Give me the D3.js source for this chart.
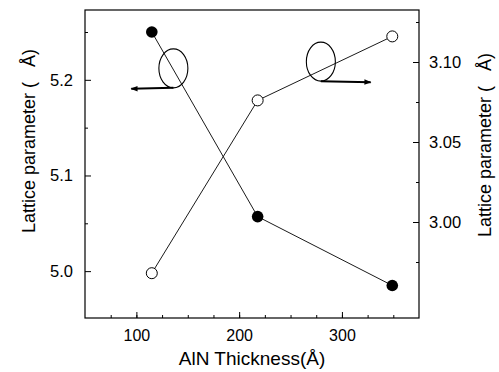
<!DOCTYPE html>
<html>
<head>
<meta charset="utf-8">
<script src="https://cdn.jsdelivr.net/npm/d3@7"></script>
<style>
  body { margin: 0; background: #fff; }
  text { font-family: "Liberation Sans", Arial, sans-serif; fill: #000; }
  .title { white-space: pre; }
</style>
</head>
<body>
<div id="chart"></div>
<script>
// data
const thickness = [115, 218, 349];
const latticeA = [5.250, 5.057, 4.985];   // filled, left axis
const latticeC = [2.968, 3.076, 3.116];   // open, right axis
const xTicks = [100, 200, 300];
const leftTicks = [5.0, 5.1, 5.2];
const rightTicks = [3.00, 3.05, 3.10];

const W = 499, H = 372;
const margin = { top: 10, right: 80, bottom: 54, left: 85 };

const svg = d3.select('#chart').append('svg')
  .attr('width', W).attr('height', H);

const x = d3.scaleLinear().domain([50, 375]).range([margin.left, W - margin.right]);
const yL = d3.scaleLinear().domain([4.951, 5.273]).range([H - margin.bottom, margin.top]);
const yR = d3.scaleLinear().domain([2.94, 3.1325]).range([H - margin.bottom, margin.top]);

// frame
svg.append('rect')
  .attr('x', margin.left).attr('y', margin.top)
  .attr('width', W - margin.right - margin.left)
  .attr('height', H - margin.bottom - margin.top)
  .attr('fill', 'none').attr('stroke', '#000').attr('stroke-width', 1.2);

// bottom axis
const bottom = svg.append('g')
  .attr('transform', 'translate(0,' + (H - margin.bottom) + ')');
bottom.call(d3.axisBottom(x).tickValues(d3.range(75, 375, 25)).tickSize(-3).tickFormat(''))
  .call(g => g.select('.domain').remove());
bottom.append('g')
  .call(d3.axisBottom(x).tickValues(xTicks).tickSize(-6).tickPadding(12).tickFormat(d3.format('d')))
  .call(g => g.select('.domain').remove())
  .selectAll('text').style('font-size', '16px');

// left axis
const left = svg.append('g').attr('transform', 'translate(' + margin.left + ',0)');
left.call(d3.axisLeft(yL).tickValues([5.05, 5.15, 5.25]).tickSize(-3).tickFormat(''))
  .call(g => g.select('.domain').remove());
left.append('g')
  .call(d3.axisLeft(yL).tickValues(leftTicks).tickSize(-6).tickPadding(12).tickFormat(d3.format('.1f')))
  .call(g => g.select('.domain').remove())
  .selectAll('text').style('font-size', '16.5px');

// right axis
const right = svg.append('g').attr('transform', 'translate(' + (W - margin.right) + ',0)');
right.call(d3.axisRight(yR).tickValues([2.975, 3.025, 3.075, 3.125]).tickSize(-3).tickFormat(''))
  .call(g => g.select('.domain').remove());
right.append('g')
  .call(d3.axisRight(yR).tickValues(rightTicks).tickSize(-6).tickPadding(10).tickFormat(d3.format('.2f')))
  .call(g => g.select('.domain').remove())
  .selectAll('text').style('font-size', '16.5px');

svg.selectAll('.tick line').attr('stroke', '#000');

// axis titles
svg.append('text').attr('class', 'title')
  .attr('transform', 'translate(35,141) rotate(-90)')
  .attr('text-anchor', 'middle').style('font-size', '18px')
  .text('Lattice parameter (   Å)');
svg.append('text').attr('class', 'title')
  .attr('transform', 'translate(491,145) rotate(-90)')
  .attr('text-anchor', 'middle').style('font-size', '18px')
  .text('Lattice parameter (   Å)');
svg.append('text')
  .attr('x', 252).attr('y', 365)
  .attr('text-anchor', 'middle').style('font-size', '19px')
  .text('AlN Thickness(Å)');

// series
const lineA = d3.line().x((d, i) => x(thickness[i])).y(d => yL(d));
const lineC = d3.line().x((d, i) => x(thickness[i])).y(d => yR(d));

svg.append('path').attr('d', lineA(latticeA))
  .attr('fill', 'none').attr('stroke', '#000').attr('stroke-width', 0.9);
svg.append('path').attr('d', lineC(latticeC))
  .attr('fill', 'none').attr('stroke', '#000').attr('stroke-width', 0.9);

svg.selectAll('.ptA').data(latticeA).enter().append('circle')
  .attr('class', 'ptA')
  .attr('cx', (d, i) => x(thickness[i])).attr('cy', d => yL(d))
  .attr('r', 5.8).attr('fill', '#000');
svg.selectAll('.ptC').data(latticeC).enter().append('circle')
  .attr('class', 'ptC')
  .attr('cx', (d, i) => x(thickness[i])).attr('cy', d => yR(d))
  .attr('r', 5.5).attr('fill', '#fff').attr('stroke', '#000').attr('stroke-width', 1);

// ellipse + arrow annotations
svg.append('defs').append('marker')
  .attr('id', 'arr').attr('viewBox', '0 0 10 10')
  .attr('refX', 9).attr('refY', 5)
  .attr('markerWidth', 5).attr('markerHeight', 3.5).attr('orient', 'auto')
  .append('path').attr('d', 'M0,1 L10,5 L0,9 Z').attr('fill', '#000');

function note(cx, cy, x2) {
  svg.append('ellipse')
    .attr('cx', x(cx)).attr('cy', yL(cy)).attr('rx', 14.5).attr('ry', 19.5)
    .attr('fill', 'none').attr('stroke', '#000').attr('stroke-width', 1.1);
  svg.append('line')
    .attr('x1', x(cx)).attr('y1', yL(cy) + 19.5)
    .attr('x2', x(x2)).attr('y2', yL(cy) + 20.5)
    .attr('stroke', '#000').attr('stroke-width', 2)
    .attr('marker-end', 'url(#arr)');
}
note(136, 5.212, 95);
note(279.5, 5.219, 328);
</script>
</body>
</html>
